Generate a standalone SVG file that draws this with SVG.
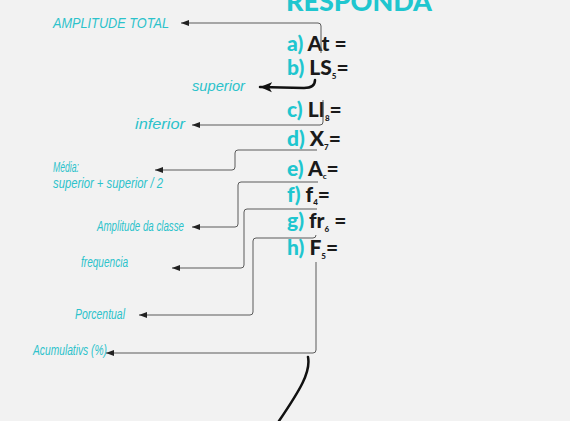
<svg xmlns="http://www.w3.org/2000/svg" width="570" height="421" viewBox="0 0 570 421">
<style>
.bg{fill:#f2f2f2}
.hd{font-family:Lato,"Open Sans",sans-serif;font-weight:900;fill:#1fc6cf}
.it{font-family:Lato,"Open Sans",sans-serif;font-weight:900;font-size:21px;fill:#1a1a1a}
.tl{fill:#1fc6cf}
.sb{font-size:8px}
.hw{font-family:"Liberation Sans Narrow","Liberation Sans",sans-serif;font-style:italic;font-size:14px;fill:#2cc2cb}
.cn{fill:none;stroke:#5a5a5a;stroke-width:1;marker-end:url(#ah)}
.tk{fill:none;stroke:#111;stroke-width:2.5;stroke-linecap:round}
</style>
<defs>
<marker id="ah" markerUnits="userSpaceOnUse" markerWidth="10" markerHeight="8" refX="8" refY="4" orient="auto">
<path d="M0,1 L8,4 L0,7 Z" fill="#222"/>
</marker>
<marker id="ahb" markerUnits="userSpaceOnUse" markerWidth="14" markerHeight="12" refX="12" refY="6" orient="auto">
<path d="M0,1 L12,6 L0,11 L3,6 Z" fill="#111"/>
</marker>
</defs>
<rect class="bg" width="570" height="421"/>
<g id="title"><text class="hd" x="286" y="11" font-size="27" textLength="146" lengthAdjust="spacingAndGlyphs">RESPONDA</text></g>
<g id="items">
<g id="a"><text class="it" x="287" y="51"><tspan class="tl">a)</tspan> At =</text></g>
<g id="b"><text class="it" x="287" y="75"><tspan class="tl">b)</tspan> LS<tspan class="sb" dy="4">5</tspan><tspan dy="-4">=</tspan></text></g>
<g id="c"><text class="it" x="287" y="117"><tspan class="tl">c)</tspan> LI<tspan class="sb" dy="4">8</tspan><tspan dy="-4">=</tspan></text></g>
<g id="d"><text class="it" x="287" y="146"><tspan class="tl">d)</tspan> X<tspan class="sb" dy="4">7</tspan><tspan dy="-4">=</tspan></text></g>
<g id="e"><text class="it" x="287" y="176"><tspan class="tl">e)</tspan> A<tspan class="sb" dy="3">c</tspan><tspan dy="-3">=</tspan></text></g>
<g id="f"><text class="it" x="287" y="202"><tspan class="tl">f)</tspan> f<tspan class="sb" dy="3">4</tspan><tspan dy="-3">=</tspan></text></g>
<g id="g"><text class="it" x="287" y="228"><tspan class="tl">g)</tspan> fr<tspan class="sb" dy="4">6</tspan><tspan dy="-4"> =</tspan></text></g>
<g id="h"><text class="it" x="287" y="255"><tspan class="tl">h)</tspan> F<tspan class="sb" dy="4">5</tspan><tspan dy="-4">=</tspan></text></g>
</g>
<g id="labels">
<g id="l-at"><text class="hw" x="53" y="28" font-size="15" textLength="116" lengthAdjust="spacingAndGlyphs">AMPLITUDE TOTAL</text></g>
<g id="l-sup"><text class="hw" x="192" y="91" font-size="16" textLength="53" lengthAdjust="spacingAndGlyphs">superior</text></g>
<g id="l-inf"><text class="hw" x="135" y="129" font-size="16" textLength="50" lengthAdjust="spacingAndGlyphs">inferior</text></g>
<g id="l-med"><text class="hw" x="53" y="172" font-size="12" textLength="26" lengthAdjust="spacingAndGlyphs">Média:</text><text class="hw" x="53" y="188" font-size="12" textLength="110" lengthAdjust="spacingAndGlyphs">superior + superior / 2</text></g>
<g id="l-amp"><text class="hw" x="97" y="231" font-size="12" textLength="87" lengthAdjust="spacingAndGlyphs">Amplitude da classe</text></g>
<g id="l-freq"><text class="hw" x="81" y="267" font-size="12" textLength="47" lengthAdjust="spacingAndGlyphs">frequencia</text></g>
<g id="l-porc"><text class="hw" x="75" y="319" font-size="12" textLength="50" lengthAdjust="spacingAndGlyphs">Porcentual</text></g>
<g id="l-acum"><text class="hw" x="33" y="355" font-size="13" textLength="74" lengthAdjust="spacingAndGlyphs">Acumulativs (%)</text></g>
</g>
<g id="connectors">
<path class="cn" d="M321,53 V26 Q321,23 318,23 H181"/>
<path class="tk" d="M315,80 C315,86 311,88 304,88 L260,87" marker-end="url(#ahb)"/>
<path class="cn" d="M323,100 V122 Q323,125 320,125 H192"/>
<path class="cn" d="M317,150 H238 Q235,150 235,153 V167 Q235,170 232,170 H155"/>
<path class="cn" d="M318,182 H241 Q238,182 238,185 V224 Q238,227 235,227 H192"/>
<path class="cn" d="M317,209 H247 Q244,209 244,212 V265 Q244,268 241,268 H172"/>
<path class="cn" d="M316,235 Q316,238 313,238 H256 Q253,238 253,241 V312 Q253,315 250,315 H139"/>
<path class="cn" d="M316,262 V350 Q316,353 313,353 H106"/>
<path class="tk" d="M308,357 C311,372 300,390 279,421"/>
</g>
</svg>
